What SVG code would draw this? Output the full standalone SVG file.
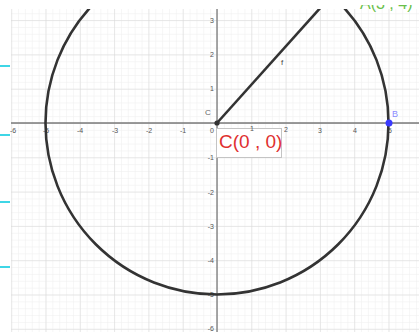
<svg xmlns="http://www.w3.org/2000/svg" width="419" height="332" viewBox="0 0 419 332">
<defs>
<pattern id="minor" patternUnits="userSpaceOnUse" x="217" y="123" width="6.86" height="6.86">
<path d="M0 0H6.86M0 0V6.86" stroke="#eeeeee" stroke-width="1" fill="none"/>
</pattern>
<pattern id="major" patternUnits="userSpaceOnUse" x="217" y="123" width="34.3" height="34.3">
<path d="M0 0H34.3M0 0V34.3" stroke="#d8d8d8" stroke-width="1" fill="none"/>
</pattern>
<clipPath id="plot"><rect x="11" y="9" width="408" height="323"/></clipPath>
<clipPath id="topclip"><rect x="340" y="5" width="79" height="20"/></clipPath>
</defs>
<style>
.tick{font-family:"Liberation Sans",Arial,sans-serif;font-size:7px;fill:#555}
.tx{text-anchor:middle}
.ty{text-anchor:end}
.cyan{stroke:#3fd6e6;stroke-width:2}
</style>
<rect width="419" height="332" fill="#ffffff"/>
<g id="grid">
<rect x="11" y="9" width="408" height="323" fill="url(#minor)"/>
<rect x="11" y="9" width="408" height="323" fill="url(#major)"/>
</g>
<g id="axes" stroke="#7a7a7a" stroke-width="1.3">
<line x1="11" y1="123" x2="419" y2="123"/>
<line x1="217" y1="9" x2="217" y2="332"/>
</g>
<g id="label-box">
<rect x="216.5" y="128.5" width="65" height="29" fill="#ffffff" stroke="#c4c4c4" stroke-width="1"/>
<text x="219" y="148" font-family="Liberation Sans,Arial,sans-serif" font-size="19" fill="#e03030">C(0 , 0)</text>
</g>
<g id="ticklabels" class="tick">
<text class="tx" x="13" y="133">-6</text>
<text class="tx" x="46" y="133">-5</text>
<text class="tx" x="80" y="133">-4</text>
<text class="tx" x="115" y="133">-3</text>
<text class="tx" x="149" y="133">-2</text>
<text class="tx" x="183" y="133">-1</text>
<text class="ty" x="214" y="133">0</text>
<text class="tx" x="252" y="131">1</text>
<text class="tx" x="286" y="132">2</text>
<text class="tx" x="320" y="133">3</text>
<text class="tx" x="355" y="133">4</text>
<text class="tx" x="390" y="133">5</text>
<text class="ty" x="214" y="23">3</text>
<text class="ty" x="214" y="57">2</text>
<text class="ty" x="214" y="91">1</text>
<text class="ty" x="214" y="160">-1</text>
<text class="ty" x="214" y="195">-2</text>
<text class="ty" x="214" y="229">-3</text>
<text class="ty" x="214" y="263">-4</text>
<text class="ty" x="214" y="297">-5</text>
<text class="ty" x="214" y="331">-6</text>
</g>
<g id="cyan-marks">
<line class="cyan" x1="0" y1="66" x2="10" y2="66"/>
<line class="cyan" x1="0" y1="135" x2="10" y2="135"/>
<line class="cyan" x1="0" y1="202" x2="10" y2="202"/>
<line class="cyan" x1="0" y1="267" x2="10" y2="267"/>
</g>
<g id="connectors" clip-path="url(#plot)" fill="none" stroke="#333333" stroke-width="2.6">
<circle id="circle" cx="217" cy="123" r="171.5"/>
<line id="f" x1="217" y1="123" x2="322" y2="6"/>
</g>
<g id="label-f"><text x="281" y="65" font-family="Liberation Sans,Arial,sans-serif" font-size="8" fill="#444">f</text></g>
<g id="top-label" clip-path="url(#topclip)"><text x="360" y="9" font-family="Liberation Sans,Arial,sans-serif" font-size="16" fill="#6abf4b">A(3 , 4)</text></g>
<g id="node-C">
<circle cx="217" cy="123" r="2.6" fill="#333333"/>
<text x="205" y="115" font-family="Liberation Sans,Arial,sans-serif" font-size="8" fill="#666">C</text>
</g>
<g id="node-B">
<circle cx="389" cy="123" r="3.5" fill="#3a3aff"/>
<text x="392" y="117" font-family="Liberation Sans,Arial,sans-serif" font-size="9" fill="#8a8aff">B</text>
</g>
</svg>
